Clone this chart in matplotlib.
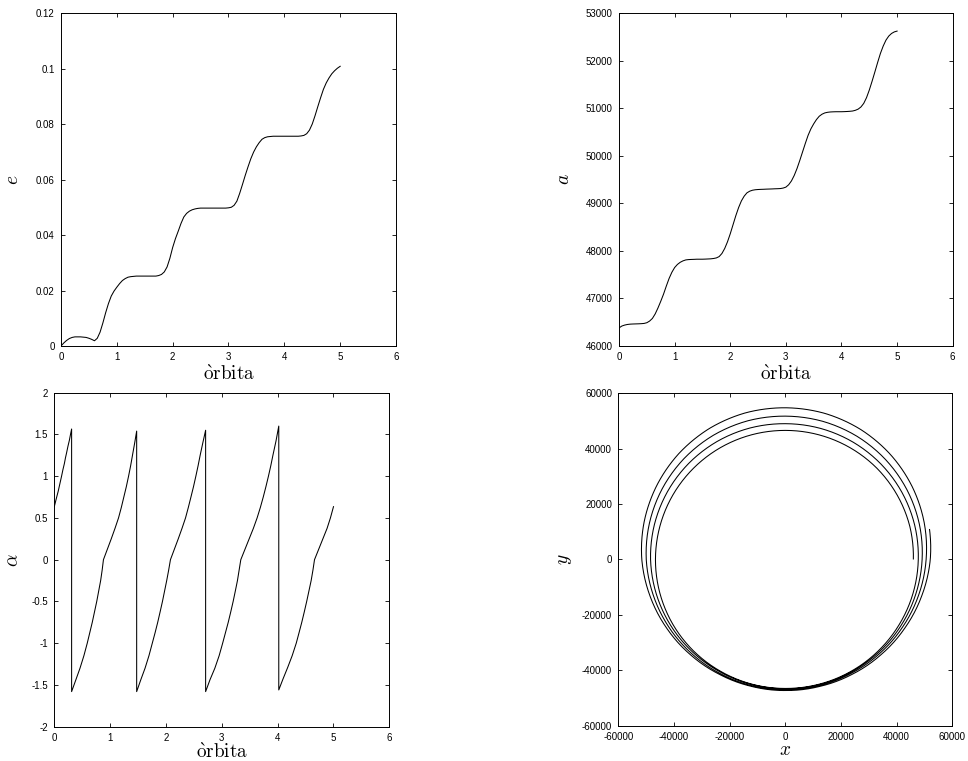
import numpy as np
import matplotlib
matplotlib.use("Agg")
import matplotlib.pyplot as plt
import matplotlib.ticker as ticker
from matplotlib.path import Path
from matplotlib.patches import PathPatch
from matplotlib.projections.polar import PolarAxes

# ── Data ─────────────────────────────────────────────────────────────────────
# time axis (orbits) for e and a, every 0.05
orbit = np.linspace(0, 5, 101)

ecc = [0.0000, 0.0011, 0.0020, 0.0027, 0.0031, 0.0033, 0.0033, 0.0033, 0.0032, 0.0031,
       0.0028, 0.0024, 0.0019, 0.0028, 0.0050, 0.0083, 0.0120, 0.0153, 0.0180, 0.0198,
       0.0212, 0.0225, 0.0236, 0.0243, 0.0248, 0.0250, 0.0251, 0.0252, 0.0252, 0.0252,
       0.0252, 0.0252, 0.0252, 0.0252, 0.0252, 0.0254, 0.0258, 0.0267, 0.0285, 0.0316,
       0.0355, 0.0387, 0.0414, 0.0442, 0.0465, 0.0478, 0.0486, 0.0491, 0.0494, 0.0496,
       0.0497, 0.0497, 0.0497, 0.0497, 0.0497, 0.0497, 0.0497, 0.0497, 0.0497, 0.0497,
       0.0498, 0.0500, 0.0507, 0.0522, 0.0550, 0.0582, 0.0615, 0.0646, 0.0675, 0.0699,
       0.0718, 0.0733, 0.0745, 0.0751, 0.0754, 0.0755, 0.0756, 0.0756, 0.0756, 0.0756,
       0.0756, 0.0756, 0.0756, 0.0756, 0.0756, 0.0756, 0.0757, 0.0759, 0.0765, 0.0778,
       0.0800, 0.0830, 0.0863, 0.0895, 0.0925, 0.0948, 0.0966, 0.0981, 0.0992, 0.1001,
       0.1008]

semi = [46380, 46420, 46440, 46453, 46460, 46463, 46465, 46467, 46470, 46475,
        46490, 46525, 46580, 46675, 46800, 46940, 47090, 47260, 47420, 47550,
        47650, 47715, 47760, 47790, 47810, 47817, 47820, 47822, 47825, 47825,
        47825, 47827, 47830, 47833, 47840, 47852, 47880, 47945, 48050, 48190,
        48360, 48550, 48740, 48910, 49050, 49150, 49220, 49255, 49275, 49285,
        49290, 49293, 49295, 49298, 49300, 49302, 49305, 49307, 49310, 49320,
        49340, 49390, 49470, 49585, 49730, 49900, 50080, 50260, 50430, 50565,
        50670, 50760, 50830, 50873, 50900, 50913, 50920, 50923, 50925, 50925,
        50925, 50927, 50930, 50934, 50940, 50955, 50980, 51025, 51100, 51220,
        51380, 51565, 51760, 51960, 52150, 52305, 52430, 52515, 52570, 52603,
        52620]

# alpha (sawtooth; each jump is a repeated time with both values)
alpha_t = [0.00, 0.035, 0.07, 0.10, 0.13, 0.155, 0.18, 0.20, 0.22, 0.245, 0.27, 0.29, 0.31,
           0.31, 0.38, 0.46, 0.53, 0.59, 0.635, 0.68, 0.72, 0.76, 0.795, 0.83, 0.857, 0.88,
           0.95, 1.02, 1.087, 1.15, 1.20, 1.245, 1.29, 1.33, 1.367, 1.40, 1.44, 1.475,
           1.475, 1.548, 1.625, 1.695, 1.755, 1.805, 1.852, 1.895, 1.937, 1.975, 2.013, 2.048, 2.08,
           2.15, 2.22, 2.287, 2.35, 2.40, 2.447, 2.493, 2.535, 2.575, 2.612, 2.66, 2.71,
           2.71, 2.787, 2.875, 2.952, 3.015, 3.065, 3.115, 3.16, 3.203, 3.242, 3.28, 3.31, 3.34,
           3.415, 3.49, 3.565, 3.632, 3.69, 3.742, 3.79, 3.835, 3.877, 3.915, 3.97, 4.02,
           4.02, 4.095, 4.18, 4.26, 4.333, 4.383, 4.432, 4.477, 4.52, 4.56, 4.60, 4.632, 4.66,
           4.735, 4.81, 4.885, 4.945, 5.00]
alpha_v = [0.635, 0.73, 0.82, 0.91, 1.00, 1.08, 1.15, 1.22, 1.28, 1.36, 1.43, 1.50, 1.565,
           -1.58, -1.45, -1.30, -1.15, -1.00, -0.875, -0.75, -0.625, -0.50, -0.375, -0.25, -0.125, 0.00,
           0.125, 0.25, 0.375, 0.50, 0.625, 0.75, 0.875, 1.00, 1.125, 1.25, 1.40, 1.54,
           -1.58, -1.44, -1.30, -1.15, -1.00, -0.875, -0.75, -0.625, -0.50, -0.375, -0.25, -0.125, 0.00,
           0.125, 0.25, 0.375, 0.50, 0.625, 0.75, 0.875, 1.00, 1.125, 1.25, 1.40, 1.55,
           -1.58, -1.44, -1.30, -1.15, -1.00, -0.875, -0.75, -0.625, -0.50, -0.375, -0.25, -0.125, 0.00,
           0.125, 0.25, 0.375, 0.50, 0.625, 0.75, 0.875, 1.00, 1.125, 1.25, 1.42, 1.60,
           -1.56, -1.43, -1.29, -1.15, -1.00, -0.875, -0.75, -0.625, -0.50, -0.375, -0.25, -0.125, 0.00,
           0.125, 0.25, 0.375, 0.50, 0.635]

# trajectory: polar angle (deg, unwrapped) and radius
orbit_deg = list(range(0, 1441, 15)) + [1452]
orbit_r = [46000, 46300, 46430, 46558, 46580, 46594, 46600, 46620, 46630, 46629,
           46640, 46646, 46670, 46694, 46705, 46670, 46592, 46584, 46555, 46628,
           46763, 46948, 47181, 47479, 47770,
           48104, 48400, 48657, 48856, 48982, 49025, 49137, 49156, 49081, 48920,
           48710, 48428, 48011, 47585, 47189, 46870, 46710, 46689, 46811, 47040,
           47415, 47916, 48506, 49150,
           49821, 50434, 50971, 51392, 51659, 51750, 51853, 51767, 51501, 51084,
           50565, 49977, 49184, 48465, 47839, 47374, 47123, 46981, 47098, 47425,
           47965, 48689, 49594, 50588,
           51645, 52627, 53496, 54181, 54620, 54770, 54840, 54606, 54097, 53363,
           52523, 51576, 50396, 49332, 48438, 47761, 47404, 47304, 47458, 47903,
           48609, 49563, 50740, 52079, 52950]

# ── Style ────────────────────────────────────────────────────────────────────
plt.rcParams.update({
    "font.family": ["Liberation Sans", "DejaVu Sans"],
    "mathtext.fontset": "cm",
    "axes.unicode_minus": False,
    "axes.linewidth": 0.7,
})

LW = 0.75
ORB = r"$\mathrm{\grave{o}rbita}$"

fig = plt.figure(figsize=(9.68, 7.61), dpi=100)

def style(ax, xlim, ylim, xticks, yticks, ylab, ylab_x, xlab=ORB, xlab_y=-0.056):
    ax.set_xlim(*xlim)
    ax.set_ylim(*ylim)
    ax.set_xticks(xticks)
    ax.set_yticks(yticks)
    fmt = ticker.FuncFormatter(lambda v, _: f"{v:g}")
    ax.xaxis.set_major_formatter(fmt)
    ax.yaxis.set_major_formatter(fmt)
    ax.tick_params(direction="in", length=3, width=0.6, top=True, right=True,
                   labelsize=7, pad=4.5)
    ax.set_xlabel(xlab, fontsize=13.8)
    ax.xaxis.set_label_coords(0.5, xlab_y)
    ax.set_ylabel(ylab, fontsize=14)
    ax.yaxis.set_label_coords(ylab_x, 0.5)

# top-left: eccentricity
ax1 = fig.add_axes([0.0630, 0.5453, 0.3461, 0.4376])
ax1.plot(orbit, ecc, color="black", lw=LW)
style(ax1, (0, 6), (0, 0.12), range(7),
      [0, 0.02, 0.04, 0.06, 0.08, 0.1, 0.12], r"$e$", -0.116)

# top-right: semi-major axis
ax2 = fig.add_axes([0.6395, 0.5453, 0.3447, 0.4376])
ax2.plot(orbit, semi, color="black", lw=LW)
style(ax2, (0, 6), (46000, 53000), range(7),
      range(46000, 53001, 1000), r"$a$", -0.138)

# bottom-left: thrust angle
ax3 = fig.add_axes([0.0561, 0.0451, 0.3461, 0.4389])
ax3.plot(alpha_t, alpha_v, color="black", lw=LW)
style(ax3, (0, 6), (-2, 2), range(7),
      [-2, -1.5, -1, -0.5, 0, 0.5, 1, 1.5, 2], r"$\alpha$", -0.095, xlab_y=-0.049)

# bottom-right: trajectory, drawn through matplotlib's polar transform
try:
    polar = PolarAxes.PolarTransform(apply_theta_transforms=False)
except TypeError:
    polar = PolarAxes.PolarTransform()
ax4 = fig.add_axes([0.6388, 0.0464, 0.3450, 0.4368])
style(ax4, (-60000, 60000), (-60000, 60000), range(-60000, 60001, 20000),
      range(-60000, 60001, 20000), r"$y$", -0.134, xlab=r"$x$", xlab_y=-0.05)
traj = Path(np.column_stack([np.deg2rad(orbit_deg), orbit_r]), _interpolation_steps=30)
ax4.add_patch(PathPatch(traj, transform=polar + ax4.transData,
                        fill=False, edgecolor="black", lw=LW))

fig.savefig("out.png", dpi=100)
